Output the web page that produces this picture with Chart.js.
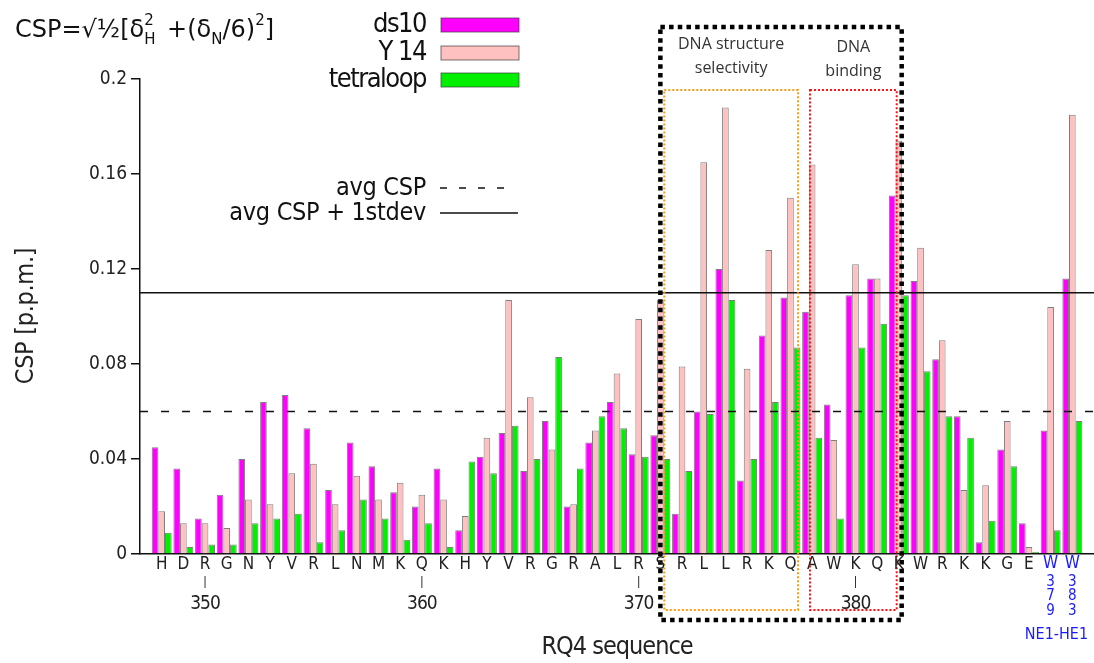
<!DOCTYPE html>
<html>
<head>
<meta charset="utf-8">
<script src="https://cdn.jsdelivr.net/npm/chart.js@4.4.0/dist/chart.umd.min.js"></script>
<style>
  html, body { margin: 0; padding: 0; background: #fff; }
  canvas { display: block; }
</style>
</head>
<body>
<canvas id="csp" width="1094" height="663"></canvas>
<script>
// residues 348-388 of RQ4, plus the two Trp side chains (NE1-HE1) at the end
var residues = ['H','D','R','G','N','Y','V','R','L','N','M','K','Q','K','H','Y','V','R','G','R','A',
                'L','R','S','R','L','L','R','K','Q','A','W','K','Q','K','W','R','K','K','G','E','W','W'];
var resNumbers = [348,349,350,351,352,353,354,355,356,357,358,359,360,361,362,363,364,365,366,367,368,
                  369,370,371,372,373,374,375,376,377,378,379,380,381,382,383,384,385,386,387,388,379,383];
var sideChainCount = 2;
var numberTicks = [350, 360, 370, 380];

var ds10 = [0.045,0.036,0.015,0.025,0.040,0.064,0.067,0.053,0.027,0.047,0.037,0.026,0.020,0.036,0.010,
            0.041,0.051,0.035,0.056,0.020,0.047,0.064,0.042,0.050,0.017,0.060,0.120,0.031,0.092,0.108,
            0.102,0.063,0.109,0.116,0.151,0.115,0.082,0.058,0.005,0.044,0.013,0.052,0.116];
var y14 = [0.018,0.013,0.013,0.011,0.023,0.021,0.034,0.038,0.021,0.033,0.023,0.030,0.025,0.023,0.016,
           0.049,0.107,0.066,0.044,0.021,0.052,0.076,0.099,0.107,0.079,0.165,0.188,0.078,0.128,0.150,
           0.164,0.048,0.122,0.116,0.174,0.129,0.090,0.027,0.029,0.056,0.003,0.104,0.185];
var tetraloop = [0.009,0.003,0.004,0.004,0.013,0.015,0.017,0.005,0.010,0.023,0.015,0.006,0.013,0.003,0.039,
                 0.034,0.054,0.040,0.083,0.036,0.058,0.053,0.041,0.040,0.035,0.059,0.107,0.040,0.064,0.087,
                 0.049,0.015,0.087,0.097,0.109,0.077,0.058,0.049,0.014,0.037,0.001,0.010,0.056];

var yTicks = [0, 0.04, 0.08, 0.12, 0.16, 0.2];
var avgCsp = 0.06;
var avgCspSd = 0.11;

var fam = "'DejaVu Sans Condensed', 'DejaVu Sans', sans-serif";
function f(size) { return size + 'px ' + fam; }

// one empty slot each side so the axis starts half a residue before H348
function pad(arr) { return [null].concat(arr, [null]); }

function hline(ctx, x1, x2, y) {
  ctx.beginPath(); ctx.moveTo(x1, y); ctx.lineTo(x2, y); ctx.stroke();
}

function txt(ctx, s, x, y, font, color, align, spacing) {
  ctx.font = font;
  ctx.fillStyle = color;
  ctx.textAlign = align || 'center';
  ctx.textBaseline = 'middle';
  ctx.letterSpacing = spacing || '0px';
  ctx.fillText(s, x, y);
  ctx.letterSpacing = '0px';
}

var overlay = {
  id: 'overlay',
  afterDatasetsDraw: function(chart) {
    var ctx = chart.ctx, xs = chart.scales.x, ys = chart.scales.y, a = chart.chartArea;
    ctx.save();
    ctx.strokeStyle = '#111';
    ctx.lineWidth = 1.5;
    ctx.setLineDash([8, 13]);
    hline(ctx, a.left, a.right, ys.getPixelForValue(avgCsp));
    ctx.setLineDash([]);
    hline(ctx, a.left, a.right, ys.getPixelForValue(avgCspSd));

    // region boxes, in residue slots
    function box(i1, i2, top, bottom, color, w, dash) {
      var x1 = xs.getPixelForValue(i1), x2 = xs.getPixelForValue(i2);
      ctx.strokeStyle = color; ctx.lineWidth = w; ctx.setLineDash(dash);
      ctx.strokeRect(x1, top, x2 - x1, bottom - top);
    }
    box(24.18, 30.35, 90, 610, '#ff9a10', 2, [2, 2]);
    box(30.9, 34.9, 90, 610, '#ff1010', 2, [2, 2]);
    box(24, 35.13, 27, 620, '#000', 4.5, [4.5, 4.2]);
    ctx.setLineDash([]);

    var c1 = xs.getPixelForValue((24.18 + 30.35) / 2), c2 = xs.getPixelForValue((30.9 + 34.9) / 2);
    var df = "16px 'Open Sans', sans-serif";
    txt(ctx, 'DNA structure', c1, 44, df, '#333');
    txt(ctx, 'selectivity', c1, 68, df, '#333');
    txt(ctx, 'DNA', c2, 47, df, '#333');
    txt(ctx, 'binding', c2, 71, df, '#333');
    ctx.restore();
  },
  afterDraw: function(chart) {
    var ctx = chart.ctx, xs = chart.scales.x;
    ctx.save();
    var n = residues.length;
    residues.forEach(function(r, i) {
      var x = xs.getPixelForValue(i + 1);
      if (i >= n - sideChainCount) {
        txt(ctx, r, x, 564, f(17), '#1a1aff');
        String(resNumbers[i]).split('').forEach(function(d, k) {
          txt(ctx, d, x, 582 + k * 14.5, f(15), '#1a1aff');
        });
      } else {
        txt(ctx, r, x, 565, f(17), '#222');
        if (numberTicks.indexOf(resNumbers[i]) >= 0) {
          ctx.strokeStyle = '#333'; ctx.lineWidth = 1;
          ctx.beginPath(); ctx.moveTo(x, 576); ctx.lineTo(x, 588); ctx.stroke();
          txt(ctx, String(resNumbers[i]), x, 604, f(19), '#222', 'center', '-1px');
        }
      }
    });
    var sx = (xs.getPixelForValue(n - 1) + xs.getPixelForValue(n)) / 2 - 5;
    txt(ctx, 'NE1-HE1', sx, 635, f(16), '#1a1aff');

    // axis titles
    txt(ctx, 'RQ4 sequence', 617, 647, f(25), '#222', 'center', '-1px');
    ctx.save();
    ctx.translate(26, 316);
    ctx.rotate(-Math.PI / 2);
    txt(ctx, 'CSP [p.p.m.]', 0, 0, f(25), '#222', 'center', '-0.3px');
    ctx.restore();

    // legend, text right of 426, swatches to the right
    var rows = [25, 53, 80];
    chart.data.datasets.forEach(function(ds, i) {
      txt(ctx, ds.label, 426, rows[i], f(27), '#111', 'right', '-1.5px');
      ctx.fillStyle = ds.backgroundColor;
      ctx.fillRect(441, rows[i] - 7, 78, 14);
      ctx.strokeStyle = 'rgba(60,60,60,0.7)'; ctx.lineWidth = 1;
      ctx.strokeRect(441, rows[i] - 7, 78, 14);
    });
    txt(ctx, 'avg CSP', 426, 188, f(25), '#111', 'right', '-0.3px');
    txt(ctx, 'avg CSP + 1stdev', 426, 213, f(25), '#111', 'right', '-0.3px');
    ctx.strokeStyle = '#111'; ctx.lineWidth = 1.5;
    ctx.setLineDash([7, 12]);
    hline(ctx, 440, 512, 188);
    ctx.setLineDash([]);
    hline(ctx, 440, 518, 213);

    // formula
    var x = 15, base = 31, ff = "'DejaVu Sans', sans-serif";
    function piece(s, size, dy) {
      ctx.font = size + 'px ' + ff; ctx.fillStyle = '#111'; ctx.textAlign = 'left'; ctx.textBaseline = 'middle';
      ctx.fillText(s, x, base + dy);
      return ctx.measureText(s).width;
    }
    x += piece('CSP=\u221A\u00BD[\u03B4', 24, 0);
    var w1 = piece('2', 15, -10), w2 = piece('H', 15, 9);
    x += Math.max(w1, w2) + 4;
    x += piece(' +(\u03B4', 24, 0);
    x += piece('N', 15, 9);
    x += piece('/6)', 24, 0);
    x += piece('2', 15, -10);
    piece(']', 24, 0);
    ctx.restore();
  }
};

var barStyle = { borderColor: 'rgba(40,40,40,0.6)', borderWidth: 1, categoryPercentage: 0.92, barPercentage: 1.0 };

new Chart(document.getElementById('csp'), {
  type: 'bar',
  data: {
    labels: pad(residues.map(function(r, i) { return r + resNumbers[i]; })),
    datasets: [
      Object.assign({ label: 'ds10', data: pad(ds10), backgroundColor: '#ff00ff' }, barStyle),
      Object.assign({ label: 'Y 14', data: pad(y14), backgroundColor: '#ffc0c0' }, barStyle),
      Object.assign({ label: 'tetraloop', data: pad(tetraloop), backgroundColor: '#00f000' }, barStyle)
    ]
  },
  options: {
    responsive: false,
    animation: false,
    layout: { padding: { top: 79, left: 0, right: 0, bottom: 0 } },
    plugins: { legend: { display: false }, tooltip: { enabled: false } },
    scales: {
      x: {
        offset: false,
        grid: { display: false },
        border: { display: true, color: '#111', width: 1.5 },
        ticks: { display: false },
        afterFit: function(s) { s.height = 109; }
      },
      y: {
        min: 0, max: 0.2,
        afterBuildTicks: function(s) { s.ticks = yTicks.map(function(v) { return { value: v }; }); },
        ticks: {
          padding: 4,
          color: '#222',
          font: { family: fam, size: 19 },
          callback: function(v) { return String(+v.toFixed(2)); }
        },
        grid: { drawOnChartArea: false, drawTicks: true, tickLength: 9, color: '#111', lineWidth: 1.5 },
        border: { display: true, color: '#111', width: 1.5 },
        afterFit: function(s) { s.width = 140; }
      }
    }
  },
  plugins: [overlay]
});
</script>
</body>
</html>
